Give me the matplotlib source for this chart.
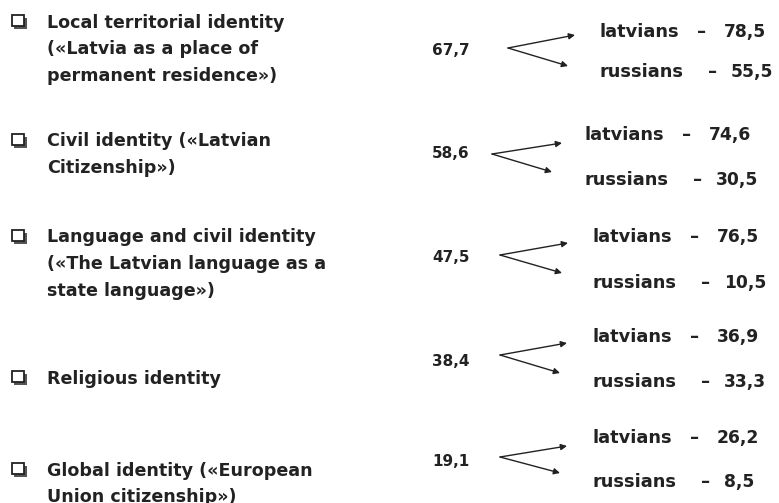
import matplotlib
matplotlib.use("Agg")
import matplotlib.pyplot as plt
from matplotlib.patches import Rectangle

# ---- data ----
categories = [
    "Local territorial identity\n(«Latvia as a place of\npermanent residence»)",
    "Civil identity («Latvian\nCitizenship»)",
    "Language and civil identity\n(«The Latvian language as a\nstate language»)",
    "Religious identity",
    "Global identity («European\nUnion citizenship»)",
]
totals = [67.7, 58.6, 47.5, 38.4, 19.1]
latvians = [78.5, 74.6, 76.5, 36.9, 26.2]
russians = [55.5, 30.5, 10.5, 33.3, 8.5]
group_names = ["latvians", "russians"]

def fmt(v):
    return f"{v:.1f}".replace(".", ",")

# ---- layout (pixel coordinates) ----
W, H = 779, 503
fig = plt.figure(figsize=(W / 100, H / 100), dpi=100)
ax = fig.add_axes([0, 0, 1, 1])
ax.set_xlim(0, W)
ax.set_ylim(H, 0)
ax.axis("off")

col = "#222222"
base = dict(family=["DejaVu Sans"], fontweight="bold", color=col)

label_c = [22, 141, 237, 378, 470]
total_y = [50, 153, 257, 362, 462]
lat_y = [32, 135, 237, 337, 438]
rus_y = [72, 180, 283, 382, 482]
word_x = [600, 585, 593, 593, 593]
arrow_start = [(508, 48), (492, 154), (500, 255), (500, 355), (500, 457)]
arrow_lat = [(575, 35), (562, 143), (568, 243), (567, 343), (567, 446)]
arrow_rus = [(568, 66), (552, 172), (562, 273), (560, 373), (560, 473)]

for i, cat in enumerate(categories):
    # checkbox with shadow
    cy = label_c[i]
    ax.add_patch(Rectangle((14, cy - 4), 13, 11, facecolor="#555555",
                           edgecolor="none", zorder=2))
    ax.add_patch(Rectangle((12, cy - 7), 12, 11, facecolor="white",
                           edgecolor=col, lw=1.3, zorder=3))
    ax.text(47, cy - 8.5, cat, ha="left", va="top",
            linespacing=1.62, fontsize=12.6, **base)
    ax.text(432, total_y[i], fmt(totals[i]), ha="left", va="center",
            fontsize=11, **base)
    for end in (arrow_lat[i], arrow_rus[i]):
        ax.annotate("", xy=end, xytext=arrow_start[i],
                    arrowprops=dict(arrowstyle="-|>", color=col, lw=1.0,
                                    mutation_scale=9, shrinkA=0, shrinkB=0))
    x = word_x[i]
    ax.text(x, lat_y[i], group_names[0], ha="left", va="center",
            fontsize=12.8, **base)
    ax.text(x + 97, lat_y[i], "–", ha="left", va="center", fontsize=13, **base)
    ax.text(x + 124, lat_y[i], fmt(latvians[i]), ha="left", va="center",
            fontsize=12.3, **base)
    ax.text(x, rus_y[i], group_names[1], ha="left", va="center",
            fontsize=12.8, **base)
    ax.text(x + 108, rus_y[i], "–", ha="left", va="center", fontsize=13, **base)
    ax.text(x + 131, rus_y[i], fmt(russians[i]), ha="left", va="center",
            fontsize=12.3, **base)

fig.savefig("out.png", dpi=100, facecolor="white")
